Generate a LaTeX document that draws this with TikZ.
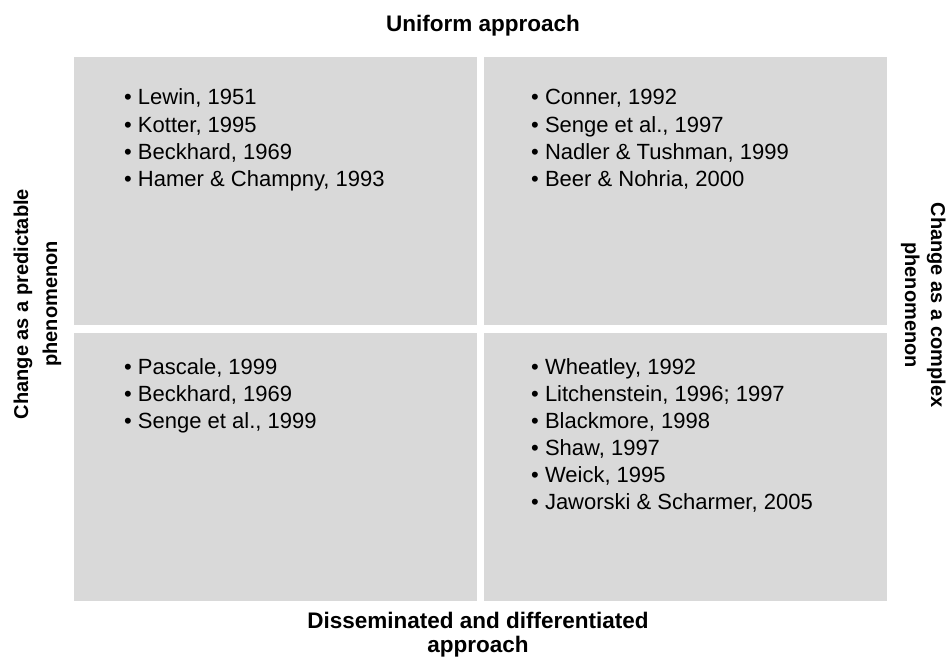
\documentclass[tikz,border=0pt]{standalone}
\usepackage{fontspec}
\setmainfont{Liberation Sans}
\definecolor{cellgrey}{HTML}{D9D9D9}
\begin{document}
\begin{tikzpicture}[x=1pt, y=-1pt,
  cell/.style={fill=cellgrey, draw=none},
  item/.style={anchor=base west, inner sep=0pt, font=\fontsize{22}{27}\selectfont},
  axislabel/.style={anchor=base, inner sep=0pt, font=\bfseries\fontsize{22.5}{24}\selectfont},
  sidelabel/.style={anchor=base, inner sep=0pt, font=\bfseries\fontsize{20}{24}\selectfont}]
\useasboundingbox (0,0) rectangle (952,666);

% four quadrants
\path[cell] (74,57)   rectangle (477,325);
\path[cell] (484,57)  rectangle (887,325);
\path[cell] (74,333)  rectangle (477,601);
\path[cell] (484,333) rectangle (887,601);

% axis labels
\node[axislabel] (top) at (483,32) {Uniform approach};
\node[axislabel] (bottom1) at (478,628) {Disseminated and differentiated};
\node[axislabel] (bottom2) at (478,652) {approach};
\node[sidelabel, rotate=90] (left1) at (28,304) {Change as a predictable};
\node[sidelabel, rotate=90] (left2) at (57,304) {phenomenon};
\node[sidelabel, rotate=-90] (right1) at (931,305) {Change as a complex};
\node[sidelabel, rotate=-90] (right2) at (905,305) {phenomenon};

% quadrant contents
\foreach \t [count=\i from 0] in {{Lewin, 1951},{Kotter, 1995},{Beckhard, 1969},{Hamer \& Champny, 1993}}
  \node[item] (tl\i) at (124,{105+27*\i}) {• \t};
\foreach \t [count=\i from 0] in {{Conner, 1992},{Senge et al., 1997},{Nadler \& Tushman, 1999},{Beer \& Nohria, 2000}}
  \node[item] (tr\i) at (531,{105+27*\i}) {• \t};
\foreach \t [count=\i from 0] in {{Pascale, 1999},{Beckhard, 1969},{Senge et al., 1999}}
  \node[item] (bl\i) at (124,{374+27*\i}) {• \t};
\foreach \t [count=\i from 0] in {{Wheatley, 1992},{Litchenstein, 1996; 1997},{Blackmore, 1998},{Shaw, 1997},{Weick, 1995},{Jaworski \& Scharmer, 2005}}
  \node[item] (br\i) at (531,{374+27*\i}) {• \t};
\end{tikzpicture}
\end{document}
